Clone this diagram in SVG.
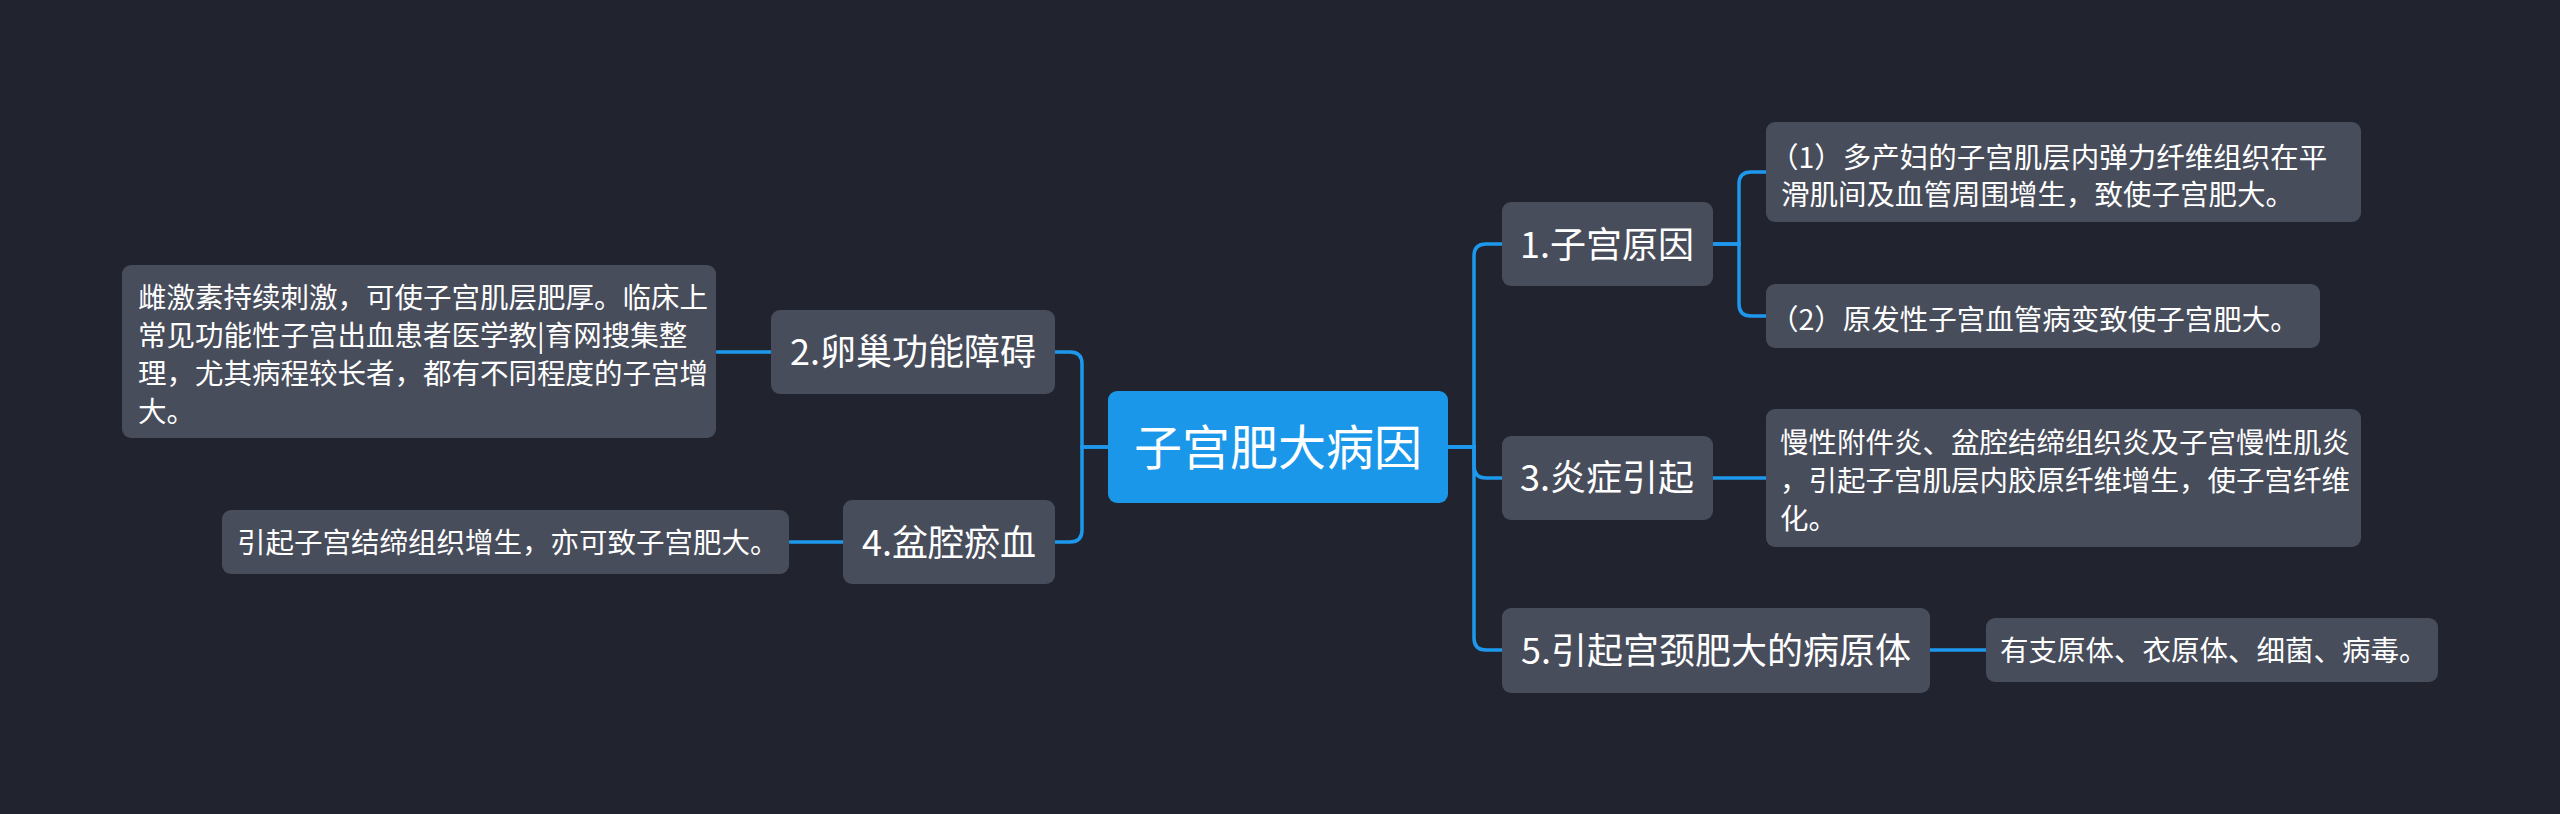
<svg xmlns="http://www.w3.org/2000/svg" width="2560" height="814" viewBox="0 0 2560 814">
<style>
.bg{fill:#21242f}
.root{fill:#1b97ea}
.box{fill:#484d5b}
.t{fill:#ffffff;font-family:"Noto Sans CJK SC","Noto Sans",sans-serif}
.root-t{font-size:48px}
.main-t{font-size:36px}
.sub-t{font-size:28.5px}
.conn{fill:none;stroke:#1e98ec;stroke-width:3.5;stroke-linecap:round}
</style>
<rect class="bg" x="0" y="0" width="2560" height="814"/>
<g id="connectors">
<path class="conn" d="M1448 447 H1474 V256 Q1474 244 1486 244 H1502"/>
<path class="conn" d="M1448 447 H1474 V466 Q1474 478 1486 478 H1502"/>
<path class="conn" d="M1448 447 H1474 V638 Q1474 650 1486 650 H1502"/>
<path class="conn" d="M1108 447 H1082 V364 Q1082 352 1070 352 H1055"/>
<path class="conn" d="M1108 447 H1082 V530 Q1082 542 1070 542 H1055"/>
<path class="conn" d="M1713 244 H1739 V184 Q1739 172 1751 172 H1767"/>
<path class="conn" d="M1713 244 H1739 V304 Q1739 316 1751 316 H1767"/>
<path class="conn" d="M717 352 H771"/>
<path class="conn" d="M790 542 H843"/>
<path class="conn" d="M1713 478 H1766"/>
<path class="conn" d="M1930 650 H1986"/>
</g>
<g id="root">
<rect class="root" x="1108" y="391" width="340" height="112" rx="9"/>
<text class="t root-t" x="1278" y="465" text-anchor="middle">子宫肥大病因</text>
</g>
<g id="n1">
<rect class="box" x="1502" y="202" width="211" height="84" rx="9"/>
<text class="t main-t" x="1607" y="258" text-anchor="middle">1.子宫原因</text>
</g>
<g id="n1a">
<rect class="box" x="1766" y="122" width="595" height="100" rx="9"/>
<text class="t sub-t" x="1770" y="168">（1）多产妇的子宫肌层内弹力纤维组织在平</text>
<text class="t sub-t" x="1781" y="205">滑肌间及血管周围增生，致使子宫肥大。</text>
</g>
<g id="n1b">
<rect class="box" x="1766" y="284" width="554" height="64" rx="9"/>
<text class="t sub-t" x="1770" y="330">（2）原发性子宫血管病变致使子宫肥大。</text>
</g>
<g id="n2">
<rect class="box" x="771" y="310" width="284" height="84" rx="9"/>
<text class="t main-t" x="913" y="365" text-anchor="middle">2.卵巢功能障碍</text>
</g>
<g id="n2a">
<rect class="box" x="122" y="265" width="594" height="173" rx="9"/>
<text class="t sub-t" x="138" y="308">雌激素持续刺激，可使子宫肌层肥厚。临床上</text>
<text class="t sub-t" x="138" y="346">常见功能性子宫出血患者医学教|育网搜集整</text>
<text class="t sub-t" x="138" y="384">理，尤其病程较长者，都有不同程度的子宫增</text>
<text class="t sub-t" x="138" y="422">大。</text>
</g>
<g id="n3">
<rect class="box" x="1502" y="436" width="211" height="84" rx="9"/>
<text class="t main-t" x="1607" y="491" text-anchor="middle">3.炎症引起</text>
</g>
<g id="n3a">
<rect class="box" x="1766" y="409" width="595" height="138" rx="9"/>
<text class="t sub-t" x="1780" y="453">慢性附件炎、盆腔结缔组织炎及子宫慢性肌炎</text>
<text class="t sub-t" x="1780" y="491">，引起子宫肌层内胶原纤维增生，使子宫纤维</text>
<text class="t sub-t" x="1780" y="529">化。</text>
</g>
<g id="n4">
<rect class="box" x="843" y="500" width="212" height="84" rx="9"/>
<text class="t main-t" x="949" y="556" text-anchor="middle">4.盆腔瘀血</text>
</g>
<g id="n4a">
<rect class="box" x="222" y="510" width="567" height="64" rx="9"/>
<text class="t sub-t" x="237" y="553">引起子宫结缔组织增生，亦可致子宫肥大。</text>
</g>
<g id="n5">
<rect class="box" x="1502" y="608" width="428" height="85" rx="9"/>
<text class="t main-t" x="1716" y="664" text-anchor="middle">5.引起宫颈肥大的病原体</text>
</g>
<g id="n5a">
<rect class="box" x="1986" y="618" width="452" height="64" rx="9"/>
<text class="t sub-t" x="2000" y="661">有支原体、衣原体、细菌、病毒。</text>
</g>
</svg>
